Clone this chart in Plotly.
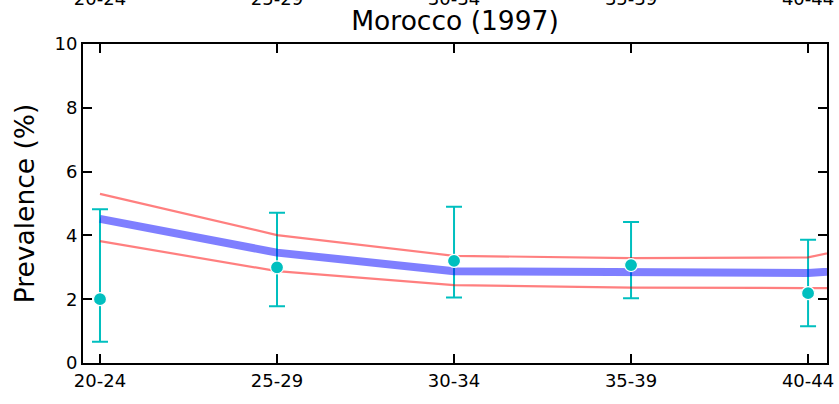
import plotly.graph_objects as go

# Age groups
ages = ["20-24", "25-29", "30-34", "35-39", "40-44"]
model_ages = ["20-24", "25-29", "30-34", "35-39", "40-44", "45-49"]

# Observed prevalence (%) with interval bounds
obs = [2.0, 3.0, 3.2, 3.07, 2.19]
obs_lo = [0.67, 1.78, 2.05, 2.03, 1.15]
obs_hi = [4.82, 4.71, 4.9, 4.42, 3.86]

# Model estimate and uncertainty band
model_mean = [4.52, 3.46, 2.88, 2.82, 2.82, 3.2]
model_upper = [5.3, 4.01, 3.36, 3.29, 3.31, 4.5]
model_lower = [3.82, 2.88, 2.44, 2.36, 2.35, 2.3]

title = "Morocco (1997)"
y_title = "Prevalence (%)"
y_ticks = [0, 2, 4, 6, 8, 10]

FONT = "DejaVu Sans"
CYAN = "#00bfbf"

err_plus = [h - v for h, v in zip(obs_hi, obs)]
err_minus = [v - l for v, l in zip(obs, obs_lo)]

fig = go.Figure()

# error bars (drawn first, below the translucent lines)
fig.add_trace(go.Scatter(
    x=ages, y=obs, mode="markers",
    marker=dict(size=1, color="rgba(0,0,0,0)"),
    error_y=dict(type="data", symmetric=False, array=err_plus, arrayminus=err_minus,
                 color=CYAN, thickness=2, width=8),
    hoverinfo="skip", showlegend=False,
))

fig.add_trace(go.Scatter(
    x=model_ages, y=model_mean, mode="lines",
    line=dict(color="rgba(0,0,255,0.5)", width=8),
    showlegend=False,
))
fig.add_trace(go.Scatter(
    x=model_ages, y=model_upper, mode="lines",
    line=dict(color="rgba(255,0,0,0.5)", width=2.2),
    showlegend=False,
))
fig.add_trace(go.Scatter(
    x=model_ages, y=model_lower, mode="lines",
    line=dict(color="rgba(255,0,0,0.5)", width=2.2),
    showlegend=False,
))

# observed points on top
fig.add_trace(go.Scatter(
    x=ages, y=obs, mode="markers",
    marker=dict(size=13, color=CYAN, line=dict(color="white", width=1.2)),
    showlegend=False, cliponaxis=False,
))

# invisible trace on the top axis to show mirrored tick labels
fig.add_trace(go.Scatter(
    x=ages, y=obs, xaxis="x2", mode="markers",
    marker=dict(size=1, color="rgba(0,0,0,0)"), hoverinfo="skip", showlegend=False,
))

x_range = [-0.096, 4.107]

fig.update_layout(
    width=839, height=404,
    margin=dict(l=83, r=12, t=44, b=41, autoexpand=False),
    plot_bgcolor="white", paper_bgcolor="white",
    font=dict(family=FONT, color="black", size=18),
    title=dict(text=title, x=0.5, xref="paper", xanchor="center",
               y=1 - 21 / 404, yref="container", yanchor="middle",
               font=dict(family=FONT, size=26.5, color="black")),
    xaxis=dict(
        type="category", categoryarray=model_ages, range=x_range,
        showline=True, linecolor="black", linewidth=2, mirror="ticks",
        ticks="inside", ticklen=9, tickwidth=1.5, tickcolor="black",
        showgrid=False, zeroline=False, automargin=False,
        tickfont=dict(family=FONT, size=18, color="black"),
    ),
    xaxis2=dict(
        type="category", categoryarray=model_ages, range=x_range,
        overlaying="x", side="top", showline=False, ticks="",
        showgrid=False, zeroline=False, ticklabelstandoff=34, automargin=False,
        tickfont=dict(family=FONT, size=18, color="black"),
    ),
    yaxis=dict(
        range=[0, 10], tickvals=y_ticks,
        showline=True, linecolor="black", linewidth=2, mirror="ticks",
        ticks="inside", ticklen=9, tickwidth=1.5, tickcolor="black",
        showgrid=False, zeroline=False, automargin=False,
        tickfont=dict(family=FONT, size=18, color="black"),
        title=dict(text=y_title, font=dict(family=FONT, size=26.5, color="black"), standoff=12),
    ),
    hovermode=False,
)

fig.write_html("out.html", config={"displayModeBar": False},
               post_script="document.body.style.margin='0';")
